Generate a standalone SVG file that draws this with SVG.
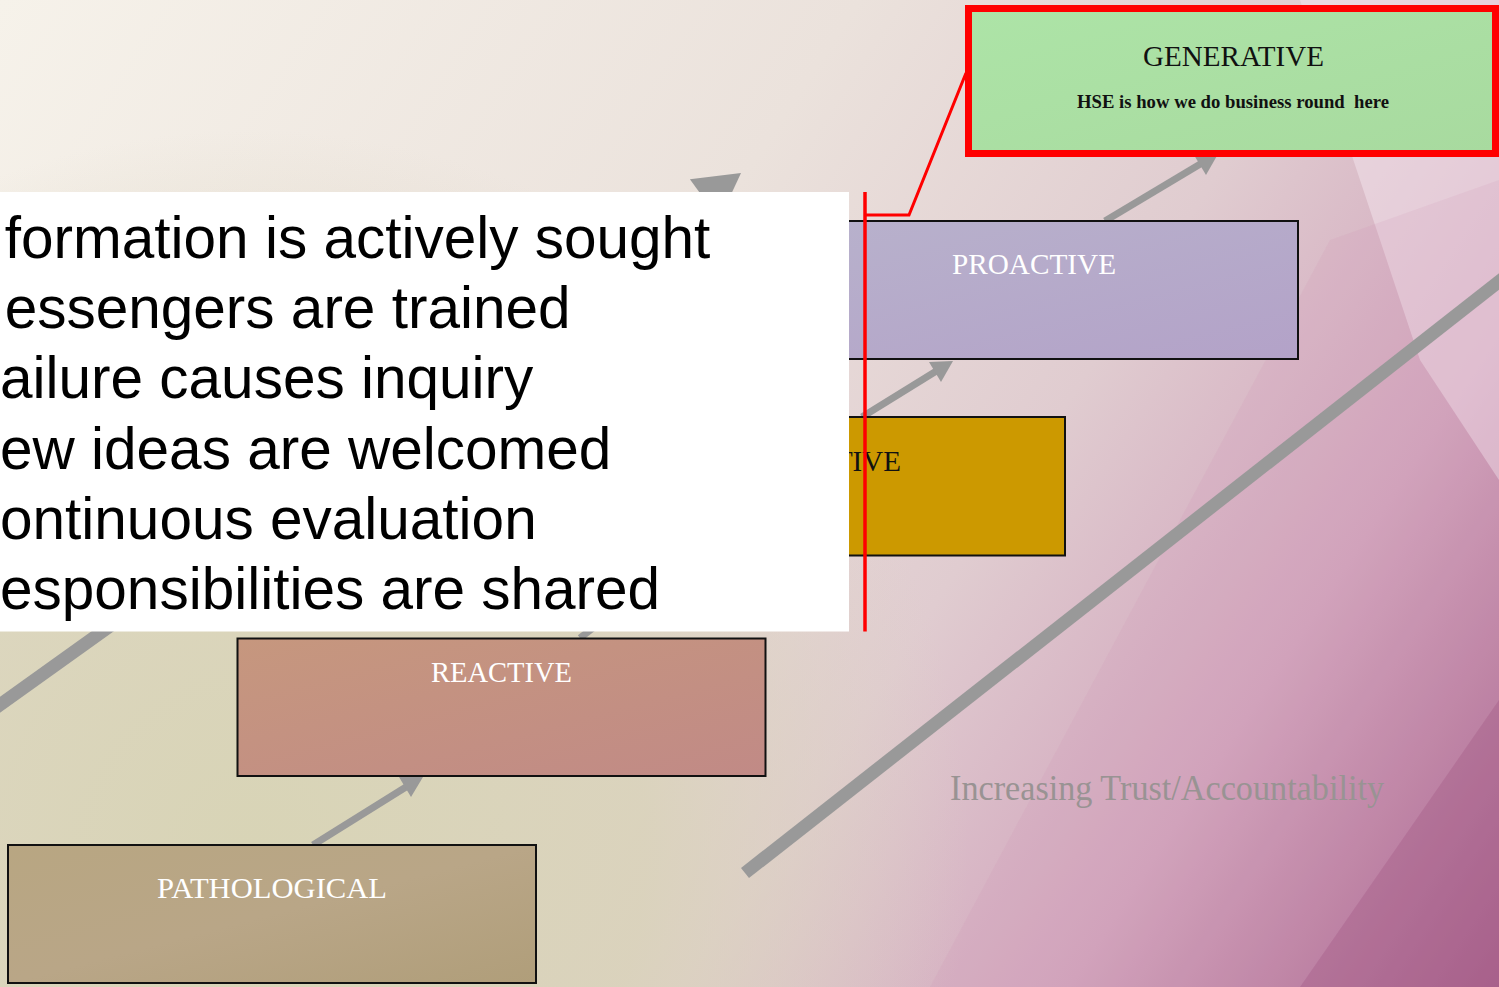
<svg xmlns="http://www.w3.org/2000/svg" width="1499" height="987" viewBox="0 0 1499 987">
<style>
.box{stroke:#111;stroke-width:2}
.lbl{font-family:"Liberation Serif","Times New Roman",serif;font-size:28.5px;text-anchor:middle}
.w{fill:#ffffff}
.b{fill:#111}
.bul{font-family:"Liberation Sans",Arial,sans-serif;font-size:58.5px;fill:#000}
.conn{stroke:#999;stroke-width:7;fill:none}
.big{stroke:#999;stroke-width:13;fill:none}
.head{fill:#999}
</style>
<defs>
<linearGradient id="bg" gradientUnits="userSpaceOnUse" x1="0" y1="0" x2="1499" y2="987">
<stop offset="0" stop-color="#f6f2ea"/>
<stop offset="0.4" stop-color="#ebe2dc"/>
<stop offset="0.62" stop-color="#e0ccd0"/>
<stop offset="0.8" stop-color="#d2a6bd"/>
<stop offset="1" stop-color="#a8628c"/>
</linearGradient>
<radialGradient id="beige" gradientUnits="userSpaceOnUse" cx="250" cy="850" r="720">
<stop offset="0" stop-color="#d8d4b6" stop-opacity="1"/>
<stop offset="0.55" stop-color="#d9d3b9" stop-opacity="0.85"/>
<stop offset="1" stop-color="#dcd4c2" stop-opacity="0"/>
</radialGradient>
<linearGradient id="gPro" x1="0" y1="0" x2="1" y2="1">
<stop offset="0" stop-color="#b8b2cc"/>
<stop offset="1" stop-color="#b3a2c8"/>
</linearGradient>
<linearGradient id="gRea" x1="0" y1="0" x2="1" y2="1">
<stop offset="0" stop-color="#c6977e"/>
<stop offset="1" stop-color="#c18a86"/>
</linearGradient>
<linearGradient id="gPat" x1="0" y1="0" x2="1" y2="1">
<stop offset="0" stop-color="#b8a682"/>
<stop offset="0.5" stop-color="#b9a687"/>
<stop offset="1" stop-color="#b09e7a"/>
</linearGradient>
<linearGradient id="gGen" x1="0" y1="0" x2="1" y2="1">
<stop offset="0" stop-color="#ade4a7"/>
<stop offset="1" stop-color="#a8da9f"/>
</linearGradient>
</defs>

<g id="background">
<rect x="0" y="0" width="1499" height="987" fill="url(#bg)"/>
<rect x="0" y="0" width="1499" height="987" fill="url(#beige)"/>
<polygon points="1300,0 1499,0 1499,480 1420,360" fill="#f4e6ee" opacity="0.5"/>
<polygon points="930,987 1180,520 1330,240 1499,180 1499,987" fill="#cf8fb4" opacity="0.14"/>
<polygon points="1300,987 1499,700 1499,987" fill="#9a4f7e" opacity="0.3"/>
</g>

<g id="trend-lines">
<line class="big" x1="-20" y1="719" x2="705" y2="200"/>
<polygon class="head" points="741,173 719.3,219.7 689.9,179.3"/>
<line class="big" x1="745" y1="873" x2="1520" y2="265" stroke-width="14"/>
</g>

<g id="connectors">
<line class="conn" x1="313" y1="845" x2="406" y2="787"/>
<polygon class="head" points="423,777 399,777 411,797"/>
<line class="conn" x1="580" y1="638" x2="673" y2="566"/>
<polygon class="head" points="690,556 666,556 678,576"/>
<line class="conn" x1="862" y1="417" x2="938" y2="370"/>
<polygon class="head" points="953,361 929,362 941,382"/>
<line class="conn" x1="1105" y1="221" x2="1202" y2="163"/>
<polygon class="head" points="1218,154 1194,155 1206,175"/>
</g>

<g id="pathological">
<rect class="box" x="8" y="845" width="528" height="138" fill="url(#gPat)"/>
<text class="lbl w" x="272" y="898" textLength="230" lengthAdjust="spacingAndGlyphs">PATHOLOGICAL</text>
</g>

<g id="reactive">
<rect class="box" x="237.5" y="638.5" width="528" height="137.5" fill="url(#gRea)"/>
<text class="lbl w" x="501.5" y="682" textLength="141" lengthAdjust="spacingAndGlyphs">REACTIVE</text>
</g>

<g id="calculative">
<rect class="box" x="537" y="417" width="528" height="138.5" fill="#cc9900"/>
<text class="lbl b" x="801" y="471" textLength="200" lengthAdjust="spacingAndGlyphs">CALCULATIVE</text>
</g>

<g id="proactive">
<rect class="box" x="770" y="221" width="528" height="138" fill="url(#gPro)"/>
<text class="lbl w" x="1034" y="274" textLength="164" lengthAdjust="spacingAndGlyphs">PROACTIVE</text>
</g>

<g id="generative">
<rect x="968.5" y="8.5" width="527" height="145" fill="url(#gGen)" stroke="#ff0000" stroke-width="7"/>
<text class="lbl b" x="1233.5" y="66" textLength="181" lengthAdjust="spacingAndGlyphs">GENERATIVE</text>
<text x="1233" y="108" xml:space="preserve" font-family="'Liberation Serif','Times New Roman',serif" font-size="18" font-weight="bold" fill="#111" text-anchor="middle" textLength="312" lengthAdjust="spacingAndGlyphs">HSE is how we do business round  here</text>
</g>

<g id="axis-label">
<text x="950" y="800" font-family="'Liberation Serif','Times New Roman',serif" font-size="36" fill="#999393" textLength="434" lengthAdjust="spacingAndGlyphs">Increasing Trust/Accountability</text>
</g>

<g id="callout">
<rect x="0" y="192" width="849" height="439.5" fill="#ffffff"/>
<text class="bul" x="4.8" y="258">formation is actively sought</text>
<text class="bul" x="4.7" y="328.2">essengers are trained</text>
<text class="bul" x="0" y="398.4">ailure causes inquiry</text>
<text class="bul" x="0" y="468.6">ew ideas are welcomed</text>
<text class="bul" x="0" y="538.8">ontinuous evaluation</text>
<text class="bul" x="0" y="609">esponsibilities are shared</text>
<line x1="865" y1="192" x2="865" y2="631.5" stroke="#ff0000" stroke-width="3.5"/>
<polyline points="865,215 909,215 966,73" fill="none" stroke="#ff0000" stroke-width="3"/>
</g>
</svg>
